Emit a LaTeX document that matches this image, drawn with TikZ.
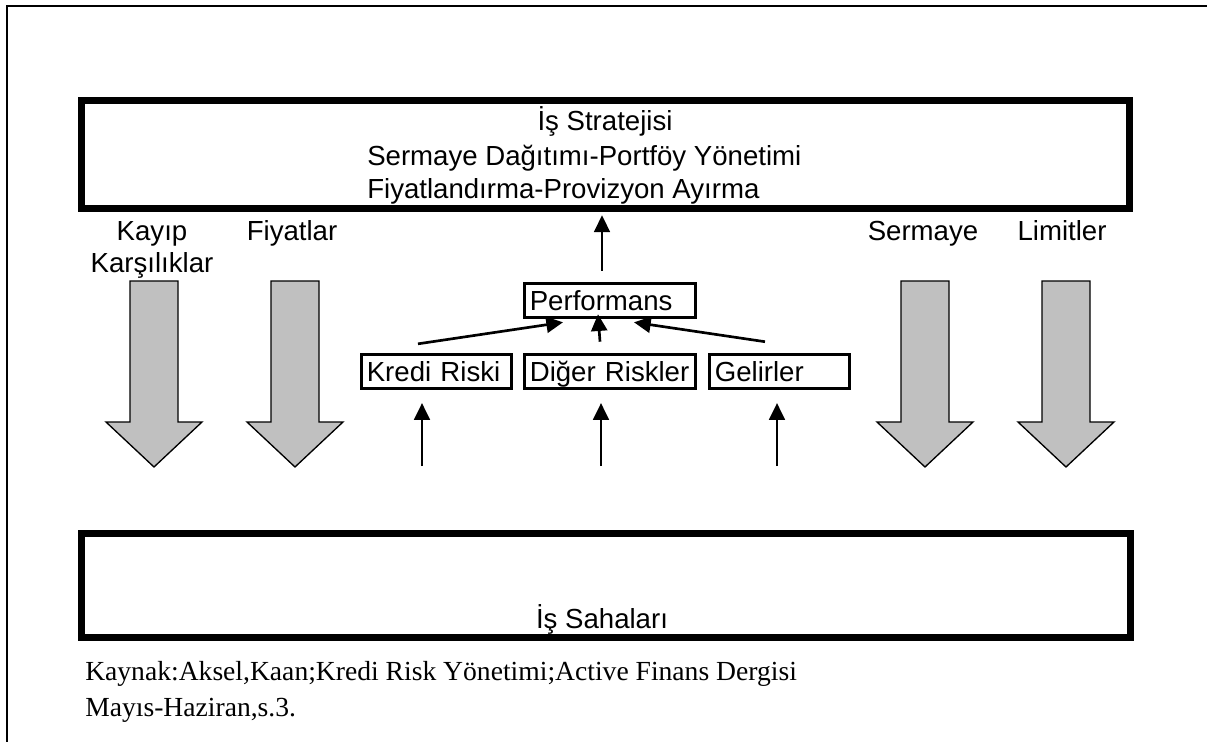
\documentclass[tikz,border=0pt]{standalone}
\usepackage{fontspec}
\setmainfont{Liberation Sans}
\newfontfamily\kaynakfont{Liberation Serif}
\usetikzlibrary{arrows.meta}
\definecolor{okgri}{RGB}{192,192,192}

\begin{document}
\begin{tikzpicture}[x=0.75pt, y=-0.75pt, font=\fontsize{20.7}{24.75}\selectfont, line join=miter, >={Triangle[width=12pt,length=12.5pt]},
  genkutu/.style={draw, line width=5pt, inner sep=0pt},
  kutu/.style={draw, line width=2pt, inner xsep=4pt, inner ysep=0pt, minimum height=25.5pt, text height=14.8pt, text depth=0pt, align=left},
  yazi/.style={inner sep=0pt},
  okblok/.style={draw, line width=1pt, fill=okgri},
  okince/.style={->, line width=1.3pt},
  okkalin/.style={->, line width=2pt}]
  \useasboundingbox (0,0) rectangle (1207,742);
  % cerceve
  \draw[line width=1.5pt] (7,742) -- (7,6) -- (1207,6);
  % ust kutu
  \node[genkutu, minimum width=786.3pt, minimum height=81.3pt] (strateji) at (605.5,154.5) {};
  \node[yazi, anchor=base] (baslik) at (605,130) {İş Stratejisi};
  \node[yazi, anchor=base west, align=left] (govde) at (367,198) {Sermaye Dağıtımı-Portföy Yönetimi\\Fiyatlandırma-Provizyon Ayırma};
  % etiketler
  \node[yazi, anchor=base] (kayip) at (152,240) {Kayıp};
  \node[yazi, anchor=base] (karsilik) at (152,272) {Karşılıklar};
  \node[yazi, anchor=base] (fiyat) at (292,240) {Fiyatlar};
  \node[yazi, anchor=base] (sermaye) at (923,240) {Sermaye};
  \node[yazi, anchor=base] (limit) at (1062,240) {Limitler};
  % gri oklar
  \foreach \c in {154,295,925,1066}
    \draw[okblok] (\c-24,281) -- (\c+24,281) -- (\c+24,422) -- (\c+48,422) -- (\c,467) -- (\c-48,422) -- (\c-24,422) -- cycle;
  % kutular
  \node[kutu, text width=120.25pt] (perf) at (610,300.5) {\mbox{Performans}};
  \node[kutu, text width=104.5pt] (kredi) at (436.5,371.5) {\mbox{Kredi Riski}};
  \node[kutu, text width=120.25pt] (diger) at (610,371.5) {\mbox{Diğer Riskler}};
  \node[kutu, text width=97pt] (gelir) at (779.5,371.5) {\mbox{Gelirler}};
  \draw[okkalin] ([xshift=-13.9pt,yshift=7pt]kredi.north) -- ([xshift=-35.25pt,yshift=-2.6pt]perf.south);
  \draw[okkalin] ([xshift=-7.5pt,yshift=8.6pt]diger.north) -- ([xshift=-9pt,yshift=3.4pt]perf.south);
  \draw[okkalin] ([xshift=-10.9pt,yshift=8.6pt]gelir.north) -- ([xshift=18pt,yshift=-2.6pt]perf.south);
  \coordinate (pu) at ([xshift=-6pt,yshift=8.6pt]perf.north);
  \draw[okince, shorten >=2.5pt] (pu) -- (pu |- strateji.south);
  \foreach \x/\k in {422/kredi,601/diger,777/gelir} {
    \coordinate (alt\k) at (\x,466);
    \draw[okince, shorten >=10pt] (alt\k) -- (alt\k |- \k.south);
  }
  % alt kutu
  \node[genkutu, minimum width=786.75pt, minimum height=78.3pt] (sahalar) at (605.8,585.5) {};
  \node[yazi, anchor=base] (sahayazi) at (602,628) {İş Sahaları};
  \node[yazi, anchor=base west, align=left, font=\kaynakfont\fontsize{20.7}{27}\selectfont] (kaynak) at (85,716) {Kaynak:Aksel,Kaan;Kredi Risk Yönetimi;Active Finans Dergisi\\Mayıs-Haziran,s.3.};
\end{tikzpicture}
\end{document}
